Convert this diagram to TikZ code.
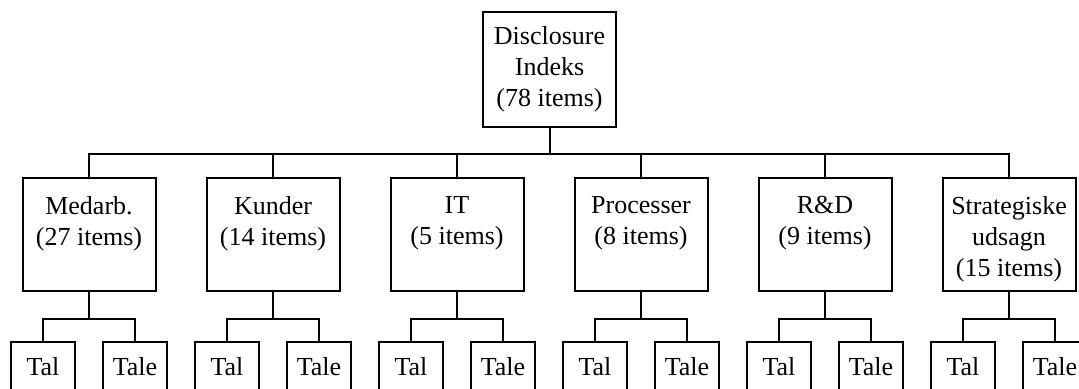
\documentclass[tikz,border=0pt]{standalone}
\usepackage{fontspec}
\setmainfont{Liberation Serif}
\usepackage{tikz}
\usetikzlibrary{positioning}

% text in the category boxes sits at the top
\newcommand{\toptext}[1]{\parbox[c][56.5pt][t]{66.5pt}{\vspace*{9pt}\centering #1}}

\begin{document}
\begin{tikzpicture}[
		x = 1pt, y = 1pt,
		node distance = 92pt, % distance between categories
		line width = 1pt, % line style
		font = \fontsize{13}{15.5}\selectfont
	]
	
	\tikzstyle{topbox}=[
	draw = black,
	align = center,
	inner sep = 0pt,
	minimum width = 66.5pt,
	minimum height = 57.5pt
	]
	\tikzstyle{catbox}=[
	draw = black,
	inner sep = 0pt,
	minimum width = 66.5pt,
	minimum height = 56.5pt
	]
	\tikzstyle{leafbox}=[
	draw = black,
	inner sep = 0pt,
	minimum width = 32pt,
	minimum height = 25pt
	]
	
	\useasboundingbox (0,0) rectangle (539.5,-194.5);
	\clip (0,0) rectangle (539.5,-194.5);
	
	\node[topbox] (idx) at (274.75,-34.75) {Disclosure\\Indeks\\(78 items)};
	
	\node[catbox] (med) at (44.5,-117.25) {\toptext{Medarb.\\(27 items)}};
	\node[catbox, right of = med] (kun) {\toptext{Kunder\\(14 items)}};
	\node[catbox, right of = kun] (it) {\toptext{IT\\(5 items)}};
	\node[catbox, right of = it] (pro) {\toptext{Processer\\(8 items)}};
	\node[catbox, right of = pro] (rd) {\toptext{R\&D\\(9 items)}};
	\node[catbox, right of = rd] (str) {\toptext{Strategiske\\udsagn\\(15 items)}};
	
	\node[leafbox, below of = med, xshift=-23pt, yshift=25.75pt] (medtal) {Tal};
	\node[leafbox, below of = med, xshift=23pt, yshift=25.75pt] (medtale) {Tale};
	\node[leafbox, below of = kun, xshift=-23pt, yshift=25.75pt] (kuntal) {Tal};
	\node[leafbox, below of = kun, xshift=23pt, yshift=25.75pt] (kuntale) {Tale};
	\node[leafbox, below of = it, xshift=-23pt, yshift=25.75pt] (ittal) {Tal};
	\node[leafbox, below of = it, xshift=23pt, yshift=25.75pt] (ittale) {Tale};
	\node[leafbox, below of = pro, xshift=-23pt, yshift=25.75pt] (protal) {Tal};
	\node[leafbox, below of = pro, xshift=23pt, yshift=25.75pt] (protale) {Tale};
	\node[leafbox, below of = rd, xshift=-23pt, yshift=25.75pt] (rdtal) {Tal};
	\node[leafbox, below of = rd, xshift=23pt, yshift=25.75pt] (rdtale) {Tale};
	\node[leafbox, below of = str, xshift=-23pt, yshift=25.75pt] (strtal) {Tal};
	\node[leafbox, below of = str, xshift=23pt, yshift=25.75pt] (strtale) {Tale};
	
	\draw (idx.south) -- ++(0,-13) -| (med.north);
	\draw (idx.south) -- ++(0,-13) -| (kun.north);
	\draw (idx.south) -- ++(0,-13) -| (it.north);
	\draw (idx.south) -- ++(0,-13) -| (pro.north);
	\draw (idx.south) -- ++(0,-13) -| (rd.north);
	\draw (idx.south) -- ++(0,-13) -| (str.north);
	
	\draw (med.south) -- ++(0,-13.5) -| (medtal.north);
	\draw (med.south) -- ++(0,-13.5) -| (medtale.north);
	\draw (kun.south) -- ++(0,-13.5) -| (kuntal.north);
	\draw (kun.south) -- ++(0,-13.5) -| (kuntale.north);
	\draw (it.south) -- ++(0,-13.5) -| (ittal.north);
	\draw (it.south) -- ++(0,-13.5) -| (ittale.north);
	\draw (pro.south) -- ++(0,-13.5) -| (protal.north);
	\draw (pro.south) -- ++(0,-13.5) -| (protale.north);
	\draw (rd.south) -- ++(0,-13.5) -| (rdtal.north);
	\draw (rd.south) -- ++(0,-13.5) -| (rdtale.north);
	\draw (str.south) -- ++(0,-13.5) -| (strtal.north);
	\draw (str.south) -- ++(0,-13.5) -| (strtale.north);
\end{tikzpicture}
\end{document}
